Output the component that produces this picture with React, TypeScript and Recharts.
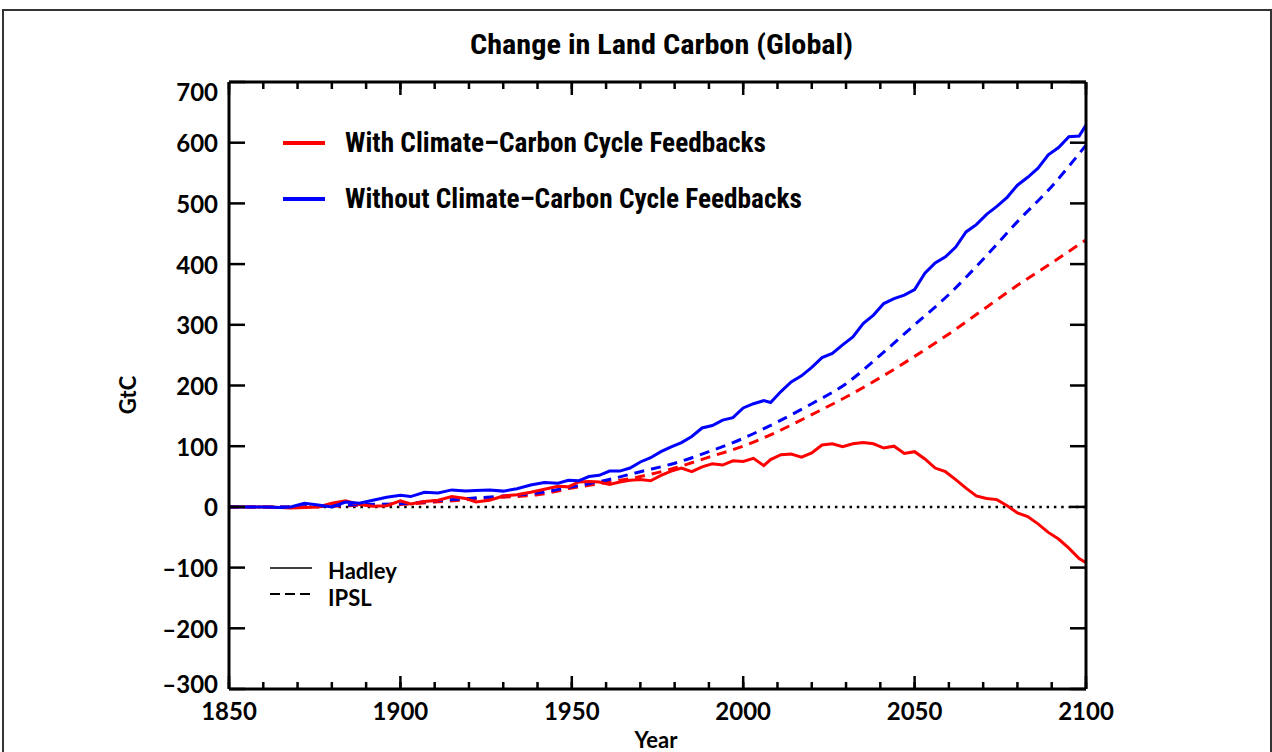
import React from "react";
import { LineChart, Line, XAxis, YAxis, ReferenceLine } from "recharts";

// Hadley model (solid lines), years sampled ~every 3 years
const hadleyYears = [
  1850, 1855, 1860, 1865, 1868, 1872, 1876, 1880, 1884, 1888,
  1892, 1896, 1900, 1903, 1907, 1911, 1915, 1919, 1922, 1926,
  1930, 1934, 1938, 1942, 1946, 1949, 1952, 1955, 1958, 1961,
  1964, 1967, 1970, 1973, 1976, 1979, 1982, 1985, 1988, 1991,
  1994, 1997, 2000, 2003, 2006, 2008, 2011, 2014, 2017, 2020,
  2023, 2026, 2029, 2032, 2035, 2038, 2041, 2044, 2047, 2050,
  2053, 2056, 2059, 2062, 2065, 2068, 2071, 2074, 2077, 2080,
  2083, 2086, 2089, 2092, 2095, 2098, 2100,
];
const hadleyWith = [
  0, 0, 0, -1, -2, -1, 0, 6, 10, 4,
  1, 2, 10, 5, 9, 11, 17, 14, 8, 11,
  18, 20, 24, 29, 34, 33, 41, 42, 41, 37,
  41, 44, 45, 43, 52, 59, 64, 58, 66, 71,
  69, 76, 75, 80, 68, 78, 86, 87, 82, 89,
  102, 104, 99, 104, 106, 104, 97, 100, 88, 91,
  79, 64, 58, 45, 31, 18, 14, 12, 2, -10,
  -16, -28, -42, -53, -68, -85, -92,
];
const hadleyWithout = [
  0, 0, 0, -1, 0, 6, 3, 0, 8, 6,
  11, 16, 19, 17, 24, 23, 28, 26, 27, 28,
  26, 30, 36, 40, 39, 44, 43, 50, 52, 59,
  59, 64, 74, 81, 91, 99, 106, 116, 130, 134,
  143, 147, 163, 170, 175, 172, 190, 206, 216, 230,
  246, 253, 267, 280, 302, 316, 335, 343, 349, 358,
  385, 402, 412, 428, 453, 465, 482, 495, 510, 530,
  543, 558, 580, 592, 610, 611, 629,
];

// IPSL model (dashed lines), decadal
const ipslYears = [
  1850, 1860, 1870, 1880, 1890, 1900, 1910, 1920, 1930, 1940,
  1950, 1960, 1970, 1980, 1990, 2000, 2010, 2020, 2030, 2040,
  2050, 2060, 2070, 2080, 2090, 2100,
];
const ipslWith = [
  0, 0, 0, 1, 3, 4, 8, 12, 16, 20,
  31, 40, 50, 64, 82, 100, 124, 152, 181, 213,
  248, 285, 325, 365, 402, 440,
];
const ipslWithout = [
  0, 0, 0, 2, 4, 5, 10, 14, 18, 23,
  33, 44, 58, 72, 91, 113, 140, 170, 203, 250,
  300, 350, 408, 470, 528, 596,
];

const yTicks = [-300, -200, -100, 0, 100, 200, 300, 400, 500, 600, 700];
const xMajorTicks = [1850, 1900, 1950, 2000, 2050, 2100];
const xMinorTicks = [
  1850, 1860, 1870, 1880, 1890, 1900, 1910, 1920, 1930, 1940, 1950, 1960, 1970,
  1980, 1990, 2000, 2010, 2020, 2030, 2040, 2050, 2060, 2070, 2080, 2090, 2100,
];

const hadleyData = hadleyYears.map((year, i) => ({
  year,
  withFb: hadleyWith[i],
  withoutFb: hadleyWithout[i],
}));
const ipslData = ipslYears.map((year, i) => ({
  year,
  withFb: ipslWith[i],
  withoutFb: ipslWithout[i],
}));

const numFont = "Lato, 'DejaVu Sans', sans-serif";
const narrowFont = "'Liberation Sans Narrow', 'Roboto Condensed', Roboto, sans-serif";
const axisStroke = { stroke: "#000", strokeWidth: 3 };
const tickStroke = { stroke: "#000", strokeWidth: 2.5 };
const noTick = () => <g />;

const YTick = (props: any) => {
  const { x, y, payload } = props;
  const v = payload.value;
  const shift = v === 700 ? 9 : v === -300 ? -6 : 0;
  const label = v < 0 ? "\u2013" + Math.abs(v) : String(v);
  return (
    <text
      x={x}
      y={y + shift}
      textAnchor="end"
      dominantBaseline="central"
      fill="#000"
      style={{ fontFamily: numFont, fontWeight: 700, fontSize: 24 }}
    >
      {label}
    </text>
  );
};

export default function App() {
  const xDomain: [number, number] = [1850, 2100];
  return (
    <div
      style={{
        position: "absolute",
        left: 0,
        top: 0,
        width: 1272,
        height: 752,
        background: "#fff",
        overflow: "hidden",
      }}
    >
      {/* outer frame */}
      <div
        style={{
          position: "absolute",
          left: 2,
          top: 9,
          width: 1266,
          height: 800,
          border: "2px solid #333",
        }}
      />
      <div style={{ position: "absolute", left: 0, top: 0 }}>
        <LineChart
          width={1272}
          height={752}
          margin={{ top: 82, right: 186, bottom: 33, left: 169 }}
        >
          <XAxis
            xAxisId="main"
            dataKey="year"
            type="number"
            domain={xDomain}
            allowDataOverflow
            ticks={xMajorTicks}
            interval={0}
            height={30}
            tickSize={0}
            tickMargin={14}
            tickLine={false}
            axisLine={axisStroke}
            tick={{ fill: "#000", fontFamily: numFont, fontWeight: 700, fontSize: 24 }}
          />
          <XAxis
            xAxisId="bMaj"
            dataKey="year"
            type="number"
            domain={xDomain}
            allowDataOverflow
            ticks={xMajorTicks}
            interval={0}
            mirror
            height={1}
            tick={noTick}
            tickSize={13}
            tickLine={tickStroke}
            axisLine={false}
          />
          <XAxis
            xAxisId="bMin"
            dataKey="year"
            type="number"
            domain={xDomain}
            allowDataOverflow
            ticks={xMinorTicks}
            interval={0}
            mirror
            height={1}
            tick={noTick}
            tickSize={6}
            tickLine={tickStroke}
            axisLine={false}
          />
          <XAxis
            xAxisId="tMaj"
            dataKey="year"
            type="number"
            orientation="top"
            domain={xDomain}
            allowDataOverflow
            ticks={xMajorTicks}
            interval={0}
            mirror
            height={1}
            tick={noTick}
            tickSize={13}
            tickLine={tickStroke}
            axisLine={axisStroke}
          />
          <XAxis
            xAxisId="tMin"
            dataKey="year"
            type="number"
            orientation="top"
            domain={xDomain}
            allowDataOverflow
            ticks={xMinorTicks}
            interval={0}
            mirror
            height={1}
            tick={noTick}
            tickSize={6}
            tickLine={tickStroke}
            axisLine={false}
          />
          <YAxis
            yAxisId="main"
            type="number"
            domain={[-300, 700]}
            allowDataOverflow
            ticks={yTicks}
            interval={0}
            width={60}
            tickSize={0}
            tickMargin={11}
            tickLine={false}
            axisLine={axisStroke}
            tick={<YTick />}
          />
          <YAxis
            yAxisId="lMir"
            type="number"
            domain={[-300, 700]}
            allowDataOverflow
            ticks={yTicks}
            interval={0}
            mirror
            width={1}
            tick={noTick}
            tickSize={16}
            tickLine={tickStroke}
            axisLine={false}
          />
          <YAxis
            yAxisId="rMir"
            type="number"
            orientation="right"
            domain={[-300, 700]}
            allowDataOverflow
            ticks={yTicks}
            interval={0}
            mirror
            width={1}
            tick={noTick}
            tickSize={16}
            tickLine={tickStroke}
            axisLine={axisStroke}
          />
          <ReferenceLine
            xAxisId="main"
            yAxisId="main"
            y={0}
            stroke="#000"
            strokeWidth={2.5}
            strokeDasharray="2.5 4.8"
          />
          <Line
            xAxisId="main"
            yAxisId="main"
            data={ipslData}
            dataKey="withFb"
            type="monotone"
            stroke="#ff0000"
            strokeWidth={3}
            strokeDasharray="10 7"
            dot={false}
            isAnimationActive={false}
          />
          <Line
            xAxisId="main"
            yAxisId="main"
            data={ipslData}
            dataKey="withoutFb"
            type="monotone"
            stroke="#0000ff"
            strokeWidth={3}
            strokeDasharray="10 7"
            dot={false}
            isAnimationActive={false}
          />
          <Line
            xAxisId="main"
            yAxisId="main"
            data={hadleyData}
            dataKey="withFb"
            type="linear"
            stroke="#ff0000"
            strokeWidth={3}
            dot={false}
            isAnimationActive={false}
          />
          <Line
            xAxisId="main"
            yAxisId="main"
            data={hadleyData}
            dataKey="withoutFb"
            type="linear"
            stroke="#0000ff"
            strokeWidth={3}
            dot={false}
            isAnimationActive={false}
          />
        </LineChart>
      </div>
      {/* title, axis titles and legends */}
      <svg
        width={1272}
        height={752}
        style={{ position: "absolute", left: 0, top: 0, pointerEvents: "none" }}
      >
        <text
          x={470}
          y={54}
          textLength={383}
          lengthAdjust="spacingAndGlyphs"
          style={{ fontFamily: narrowFont, fontSize: 28, fontWeight: 700 }}
        >
          Change in Land Carbon (Global)
        </text>
        <line x1={283} x2={325} y1={143} y2={143} stroke="#ff0000" strokeWidth={4} />
        <text
          x={345}
          y={152}
          textLength={421}
          lengthAdjust="spacingAndGlyphs"
          style={{ fontFamily: narrowFont, fontSize: 27, fontWeight: 700 }}
        >
          With Climate–Carbon Cycle Feedbacks
        </text>
        <line x1={283} x2={325} y1={199} y2={199} stroke="#0000ff" strokeWidth={4} />
        <text
          x={345}
          y={208}
          textLength={457}
          lengthAdjust="spacingAndGlyphs"
          style={{ fontFamily: narrowFont, fontSize: 27, fontWeight: 700 }}
        >
          Without Climate–Carbon Cycle Feedbacks
        </text>
        <line x1={270} x2={312} y1={568} y2={568} stroke="#000" strokeWidth={1.5} />
        <text
          x={328}
          y={579}
          style={{ fontFamily: numFont, fontSize: 22, fontWeight: 700 }}
        >
          Hadley
        </text>
        <line
          x1={270}
          x2={312}
          y1={594}
          y2={594}
          stroke="#000"
          strokeWidth={2}
          strokeDasharray="10 5"
        />
        <text
          x={328}
          y={606}
          style={{ fontFamily: numFont, fontSize: 22, fontWeight: 700 }}
        >
          IPSL
        </text>
        <text
          x={0}
          y={0}
          transform="translate(136 395) rotate(-90)"
          textAnchor="middle"
          style={{ fontFamily: numFont, fontSize: 22, fontWeight: 700 }}
        >
          GtC
        </text>
        <text
          x={656}
          y={748}
          textAnchor="middle"
          style={{ fontFamily: numFont, fontSize: 22, fontWeight: 700 }}
        >
          Year
        </text>
      </svg>
    </div>
  );
}
